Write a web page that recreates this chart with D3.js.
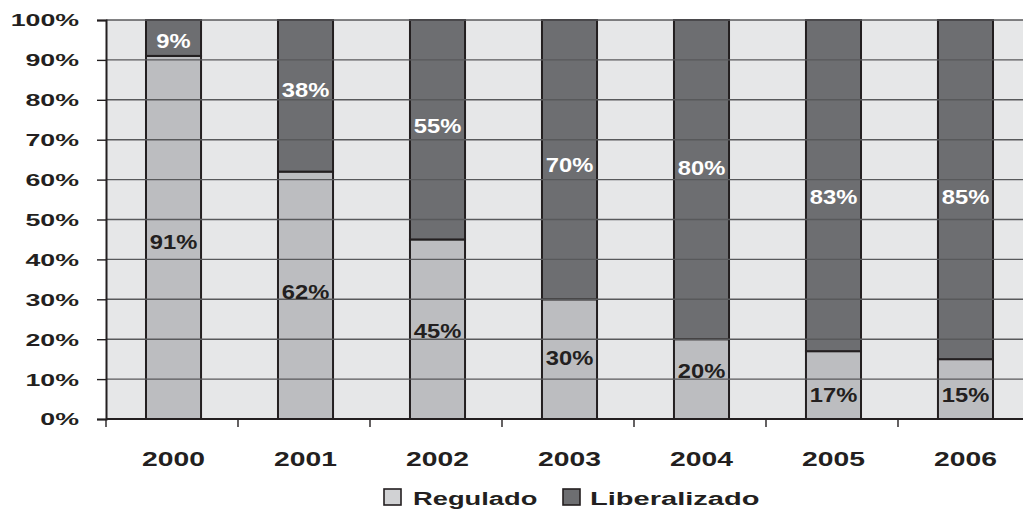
<!DOCTYPE html>
<html>
<head>
<meta charset="utf-8">
<script src="https://cdn.jsdelivr.net/npm/d3@7"></script>
<style>
  html, body { margin: 0; padding: 0; background: #fff; }
  svg { display: block; font-family: "Liberation Sans", Arial, sans-serif; }
</style>
</head>
<body>
<svg id="chart" width="1023" height="511"></svg>
<script>
// Market share by year: regulated vs liberalized supply (%)
const years = ["2000", "2001", "2002", "2003", "2004", "2005", "2006"];
const regulado = [91, 62, 45, 30, 20, 17, 15];
const liberalizado = [9, 38, 55, 70, 80, 83, 85];
const yTicks = [0, 10, 20, 30, 40, 50, 60, 70, 80, 90, 100];
const seriesNames = ["Regulado", "Liberalizado"];

// small vertical nudges (px, positive = up) for the in-bar value labels
const labelNudge = {
  Regulado: [-4, 4, -1, 2, 9, -9, -5],
  Liberalizado: [-2, 6, 4, -5, 12, -11, -7]
};

const colors = { Regulado: "#bcbdc0", Liberalizado: "#6d6e71" };
const labelColors = { Regulado: "#231f20", Liberalizado: "#ffffff" };
const ink = "#231f20";

const svg = d3.select("#chart");
const plotLeft = 106, plotTop = 20, plotBottom = 419, plotRight = 1030;

// bars sit inside 132px category bands
const x = d3.scaleBand().domain(years).range([plotLeft, 1033])
  .paddingInner(0.583).paddingOuter(0.303);
const xBand = d3.scaleBand().domain(years).range([plotLeft, plotRight]);
const y = d3.scaleLinear().domain([0, 100]).range([plotBottom, plotTop]);

// widen text horizontally (the chart uses an extended typeface)
function stretch(sel, factor) {
  sel.each(function () {
    const w = this.getComputedTextLength();
    d3.select(this).attr("textLength", w * factor).attr("lengthAdjust", "spacingAndGlyphs");
  });
}

// plot background
svg.append("rect")
  .attr("x", plotLeft).attr("y", plotTop)
  .attr("width", plotRight - plotLeft).attr("height", plotBottom - plotTop)
  .attr("fill", "#e6e7e8");

// stacked data
const table = years.map((yr, i) => ({ year: yr, Regulado: regulado[i], Liberalizado: liberalizado[i] }));
const stack = d3.stack().keys(seriesNames)(table);

const layers = svg.append("g").selectAll("g").data(stack).join("g")
  .attr("fill", d => colors[d.key]);

layers.selectAll("rect").data(d => d).join("rect")
  .attr("x", d => x(d.data.year))
  .attr("width", x.bandwidth())
  .attr("y", d => y(d[1]))
  .attr("height", d => y(d[0]) - y(d[1]));

// horizontal gridlines drawn across the bars
svg.append("g").selectAll("line").data(yTicks).join("line")
  .attr("x1", plotLeft).attr("x2", plotRight)
  .attr("y1", d => y(d)).attr("y2", d => y(d))
  .attr("stroke", "#58595b").attr("stroke-width", 1.4);

// bar outlines
layers.selectAll("rect.outline").data(d => d).join("rect")
  .attr("class", "outline")
  .attr("fill", "none")
  .attr("stroke", ink).attr("stroke-width", 2)
  .attr("x", d => x(d.data.year))
  .attr("width", x.bandwidth())
  .attr("y", d => y(d[1]))
  .attr("height", d => y(d[0]) - y(d[1]));

// value labels inside each segment
stack.forEach(layer => {
  const t = svg.append("g").selectAll("text").data(layer).join("text")
    .attr("x", d => x(d.data.year) + x.bandwidth() / 2)
    .attr("y", (d, i) => y((d[0] + d[1]) / 2) - labelNudge[layer.key][i])
    .attr("dy", "0.36em")
    .attr("text-anchor", "middle")
    .attr("font-size", 21).attr("font-weight", "bold")
    .attr("fill", labelColors[layer.key])
    .text(d => (d[1] - d[0]) + "%");
  stretch(t, 1.13);
});

// y axis
const yAxis = d3.axisLeft(y).tickValues(yTicks).tickSize(9).tickFormat(d => d + "%");
const gy = svg.append("g").attr("transform", `translate(${plotLeft},0)`).call(yAxis);
gy.select(".domain").attr("stroke", ink).attr("stroke-width", 2);
gy.selectAll(".tick line").attr("stroke", ink).attr("stroke-width", 1.4);
const yLabels = gy.selectAll(".tick text")
  .attr("x", -27)
  .attr("dy", "0.36em")
  .attr("font-size", 16.5).attr("font-weight", "bold")
  .attr("fill", ink)
  .attr("font-family", "'Liberation Sans', Arial, sans-serif");
stretch(yLabels, 1.62);

// x axis with ticks at category boundaries
svg.append("line")
  .attr("x1", plotLeft).attr("x2", plotRight)
  .attr("y1", plotBottom).attr("y2", plotBottom)
  .attr("stroke", ink).attr("stroke-width", 2);
svg.append("g").selectAll("line").data(years).join("line")
  .attr("x1", d => xBand(d)).attr("x2", d => xBand(d))
  .attr("y1", plotBottom).attr("y2", plotBottom + 8)
  .attr("stroke", ink).attr("stroke-width", 1.4);
const xLabels = svg.append("g").selectAll("text").data(years).join("text")
  .attr("x", d => x(d) + x.bandwidth() / 2)
  .attr("y", 466)
  .attr("text-anchor", "middle")
  .attr("font-size", 19.5).attr("font-weight", "bold")
  .attr("fill", ink)
  .text(d => d);
stretch(xLabels, 1.45);

// legend
const legend = svg.append("g").attr("transform", "translate(384,489)");
const legendX = [0, 179];
seriesNames.forEach((name, i) => {
  const g = legend.append("g").attr("transform", `translate(${legendX[i]},0)`);
  g.append("rect").attr("x", 0).attr("y", 0).attr("width", 17).attr("height", 16)
    .attr("fill", i === 0 ? "#d1d2d4" : colors[name])
    .attr("stroke", ink).attr("stroke-width", 1.6);
  const t = g.append("text").attr("x", 29 - (i ? 2 : 0)).attr("y", 16)
    .attr("font-size", 17.5).attr("font-weight", "bold")
    .attr("fill", ink)
    .text(name);
  stretch(t, i === 0 ? 1.56 : 1.66);
});
</script>
</body>
</html>
